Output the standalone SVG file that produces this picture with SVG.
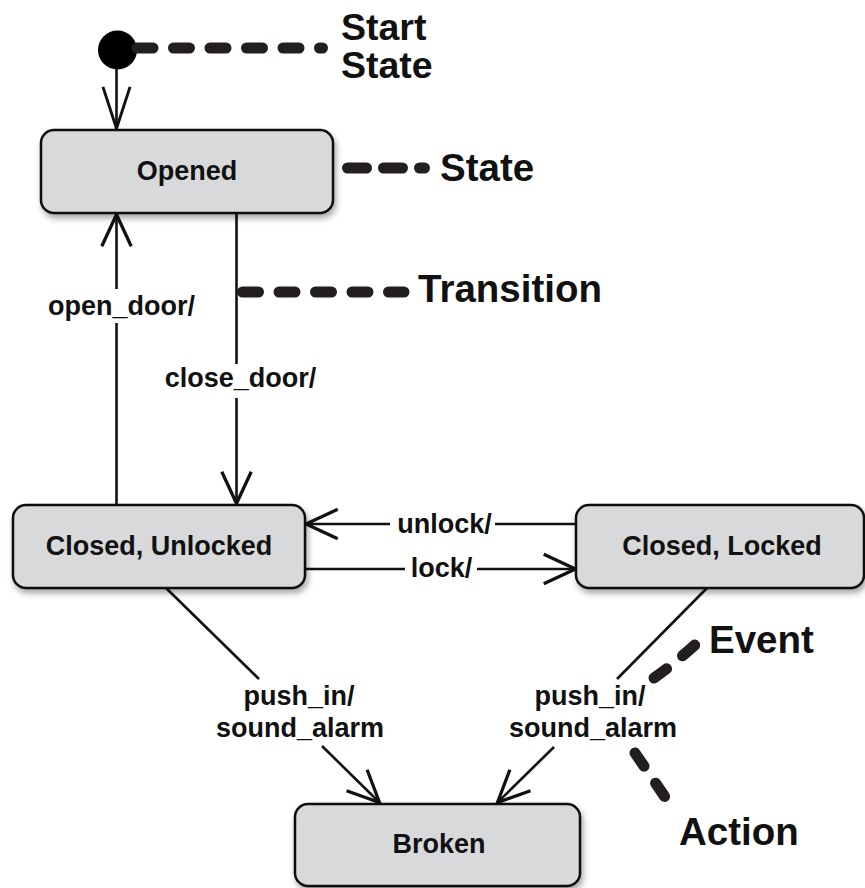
<svg xmlns="http://www.w3.org/2000/svg" width="865" height="888" viewBox="0 0 865 888">
  <style>
    .box { fill: #d8d9db; stroke: #111; stroke-width: 2.5; filter: url(#shadow); }
    .name { font-family: "Liberation Sans", Arial, sans-serif; font-weight: bold; font-size: 27px; fill: #111; text-anchor: middle; }
    .lbl { font-family: "Liberation Sans", Arial, sans-serif; font-weight: bold; font-size: 27px; fill: #111; text-anchor: middle; }
    .note { font-family: "Liberation Sans", Arial, sans-serif; font-weight: bold; font-size: 38.5px; fill: #111; }
    .edge { fill: none; stroke: #111; stroke-width: 2.6; }
    .dash { fill: none; stroke: #231f20; stroke-width: 11; stroke-linecap: round; stroke-dasharray: 16 20.5; }
  </style>
  <defs>
    <filter id="shadow" x="-10%" y="-20%" width="125%" height="150%">
      <feDropShadow dx="2" dy="4" stdDeviation="3" flood-color="#000" flood-opacity="0.35"/>
    </filter>
    <marker id="arrow" markerUnits="userSpaceOnUse" markerWidth="40" markerHeight="40" viewBox="-30 -15 34 30" refX="0" refY="0" orient="auto" overflow="visible">
      <path d="M-27,-12.5 L0,0 L-27,12.5" fill="none" stroke="#111" stroke-width="2.8"/>
    </marker>
    <marker id="arrowLong" markerUnits="userSpaceOnUse" markerWidth="50" markerHeight="40" viewBox="-44 -16 48 32" refX="0" refY="0" orient="auto" overflow="visible">
      <path d="M-40,-13 L0,0 L-40,13" fill="none" stroke="#111" stroke-width="2.8"/>
    </marker>
  </defs>

  <rect width="865" height="888" fill="#fff"/>

  <!-- transitions -->
  <g id="connectors">
    <!-- initial pseudo-state to Opened -->
    <line class="edge" x1="116.5" y1="68" x2="116.5" y2="128.5" marker-end="url(#arrowLong)"/>
    <!-- open_door/ : Closed, Unlocked to Opened -->
    <line class="edge" x1="116.5" y1="505" x2="116.5" y2="323"/>
    <line class="edge" x1="116.5" y1="289" x2="116.5" y2="214.5" marker-end="url(#arrow)"/>
    <!-- close_door/ : Opened to Closed, Unlocked -->
    <line class="edge" x1="236.5" y1="213" x2="236.5" y2="364"/>
    <line class="edge" x1="236.5" y1="398" x2="236.5" y2="503.5" marker-end="url(#arrow)"/>
    <!-- unlock/ : Closed, Locked to Closed, Unlocked -->
    <line class="edge" x1="577" y1="524" x2="495" y2="524"/>
    <line class="edge" x1="390" y1="524" x2="306" y2="524" marker-end="url(#arrow)"/>
    <!-- lock/ : Closed, Unlocked to Closed, Locked -->
    <line class="edge" x1="304" y1="569" x2="405" y2="569"/>
    <line class="edge" x1="477" y1="569" x2="575.5" y2="569" marker-end="url(#arrow)"/>
    <!-- push_in/sound_alarm : Closed, Unlocked to Broken -->
    <line class="edge" x1="166" y1="588" x2="259" y2="679"/>
    <line class="edge" x1="322" y1="746" x2="379.5" y2="802.5" marker-end="url(#arrow)"/>
    <!-- push_in/sound_alarm : Closed, Locked to Broken -->
    <line class="edge" x1="707" y1="588" x2="617" y2="679"/>
    <line class="edge" x1="554" y1="747" x2="497.5" y2="802.5" marker-end="url(#arrow)"/>

    <text class="lbl" x="121.5" y="315">open_door/</text>
    <text class="lbl" x="240.5" y="387">close_door/</text>
    <text class="lbl" x="444.5" y="533">unlock/</text>
    <text class="lbl" x="441.5" y="577">lock/</text>
    <text class="lbl" x="299" y="705">push_in/</text>
    <text class="lbl" x="300" y="737">sound_alarm</text>
    <text class="lbl" x="590" y="705">push_in/</text>
    <text class="lbl" x="593" y="737">sound_alarm</text>
  </g>

  <!-- states -->
  <g id="start">
    <circle cx="117.5" cy="50" r="19.5" fill="#000"/>
  </g>
  <g id="opened">
    <rect class="box" x="41" y="130" width="292" height="83" rx="13"/>
    <text class="name" x="187" y="180">Opened</text>
  </g>
  <g id="closed-unlocked">
    <rect class="box" x="13" y="505" width="292" height="83" rx="13"/>
    <text class="name" x="159" y="555">Closed, Unlocked</text>
  </g>
  <g id="closed-locked">
    <rect class="box" x="576" y="505" width="288" height="83" rx="13"/>
    <text class="name" x="722" y="555">Closed, Locked</text>
  </g>
  <g id="broken">
    <rect class="box" x="295" y="804" width="285" height="82" rx="13"/>
    <text class="name" x="439" y="853">Broken</text>
  </g>

  <!-- callouts -->
  <g id="annotations">
    <line class="dash" x1="137" y1="48" x2="322.5" y2="48"/>
    <text class="note" x="341" y="40" style="font-size:37.5px"><tspan x="341" y="40">Start</tspan><tspan x="341" y="77.5">State</tspan></text>

    <line class="dash" x1="347.5" y1="168" x2="424.5" y2="168" style="stroke-dasharray:19 17"/>
    <text class="note" x="440" y="181">State</text>

    <line class="dash" x1="242.5" y1="292" x2="404" y2="292"/>
    <text class="note" x="418" y="302">Transition</text>

    <path class="dash" d="M654,678 Q674,664 697,643"/>
    <text class="note" x="709" y="653">Event</text>

    <path class="dash" d="M635,753 L665,797"/>
    <text class="note" x="679" y="845">Action</text>
  </g>
</svg>
